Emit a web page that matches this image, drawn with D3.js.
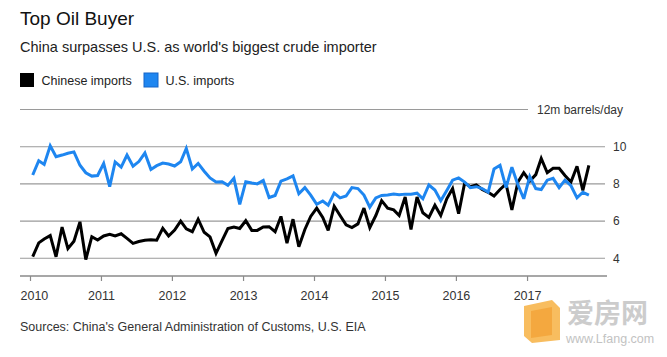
<!DOCTYPE html>
<html><head><meta charset="utf-8">
<script src="https://cdn.jsdelivr.net/npm/d3@7"></script>
<style>
body{margin:0;background:#fff;}
svg{display:block;font-family:"Liberation Sans",Arial,Helvetica,sans-serif;}
</style></head><body>
<svg id="chart" width="667" height="357"></svg>
<script>
// ---- data (monthly, Jan 2010 .. Nov 2017, million barrels/day) ----
const firstYear = 2010;
const chineseImports = [
  4.09, 4.83, 5.04, 5.22, 4.08, 5.68, 4.52, 4.92, 5.96, 3.93, 5.16, 4.98,
  5.20, 5.29, 5.20, 5.32, 5.07, 4.80, 4.90, 4.97, 5.00, 4.97, 5.61, 5.20,
  5.52, 6.00, 5.58, 5.43, 6.10, 5.40, 5.15, 4.27, 4.95, 5.60, 5.68, 5.60,
  6.02, 5.50, 5.50, 5.68, 5.70, 5.43, 6.25, 4.82, 6.10, 4.62, 5.55, 6.25,
  6.70, 6.20, 5.50, 6.80, 6.30, 5.80, 5.65, 5.85, 6.70, 5.65, 6.30, 7.10,
  6.70, 6.60, 6.30, 7.30, 5.55, 7.30, 6.45, 6.20, 6.85, 6.30, 7.20, 7.75,
  6.40, 8.05, 7.85, 7.95, 7.70, 7.55, 7.35, 7.70, 8.00, 6.60, 8.10, 8.60,
  8.15, 8.50, 9.37, 8.60, 8.84, 8.84, 8.45, 8.10, 8.95, 7.65, 9.00
];
const usImports = [
  8.48, 9.25, 9.05, 10.05, 9.46, 9.55, 9.65, 9.72, 9.00, 8.60, 8.42, 8.45,
  9.10, 7.85, 9.18, 8.90, 9.55, 8.95, 9.20, 9.66, 8.78, 8.98, 9.12, 9.07,
  8.96, 9.19, 9.91, 8.80, 9.10, 8.68, 8.32, 8.10, 8.12, 7.92, 8.30, 6.90,
  8.12, 8.05, 8.00, 8.18, 7.27, 7.38, 8.15, 8.27, 8.43, 7.47, 7.80, 7.40,
  6.90, 7.08, 6.85, 7.50, 7.25, 7.35, 7.80, 7.75, 7.40, 6.75, 7.25, 7.38,
  7.40, 7.45, 7.42, 7.45, 7.45, 7.50, 7.20, 7.94, 7.67, 7.10, 7.65, 8.20,
  8.32, 8.10, 7.80, 7.85, 7.75, 7.55, 8.80, 9.00, 7.80, 8.90, 7.95, 7.20,
  8.40, 7.75, 7.70, 8.20, 8.30, 7.80, 8.20, 7.90, 7.25, 7.55, 7.40
];
const yTickValues = [4, 6, 8, 10];
const unitTickValue = 12;
const unitLabel = "12m barrels/day";
const xTickYears = [2010, 2011, 2012, 2013, 2014, 2015, 2016, 2017];
const seriesNames = ["Chinese imports", "U.S. imports"];
const seriesColors = ["#000000", "#1e86f0"];
const titleText = "Top Oil Buyer";
const subtitleText = "China surpasses U.S. as world's biggest crude importer";
const sourceText = "Sources: China's General Administration of Customs, U.S. EIA";
const watermarkCn = "爱房网";
const watermarkUrl = "www.Lfang.com";

// ---- build ----
const months = chineseImports.map((_, i) => new Date(firstYear, i, 15));
const svg = d3.select("#chart");

const x = d3.scaleTime()
  .domain([new Date(2010, 0, 1), new Date(2018, 0, 1)])
  .range([30, 598]);
const y = d3.scaleLinear().domain([4, 12]).range([258.3, 109.5]);

const gridLeft = 20, gridRight = 605;

// title block
svg.append("text").attr("x", 20).attr("y", 25).attr("font-size", 19)
  .attr("fill", "#111").text(titleText);
svg.append("text").attr("x", 20).attr("y", 52).attr("font-size", 14.5)
  .attr("fill", "#222").text(subtitleText);

// legend
const legendX = [20, 144];
seriesNames.forEach((name, i) => {
  svg.append("rect").attr("x", legendX[i]).attr("y", 73).attr("width", 14).attr("height", 14)
    .attr("fill", seriesColors[i])
    .attr("stroke", i === 1 ? "#1565c8" : "none").attr("stroke-width", 1);
  svg.append("text").attr("x", legendX[i] + 21.5).attr("y", 84.5).attr("font-size", 12.5)
    .attr("fill", "#222").text(name);
});

// gridlines
const grid = svg.append("g");
grid.selectAll("line.g").data(yTickValues).join("line")
  .attr("x1", gridLeft).attr("x2", gridRight)
  .attr("y1", d => y(d)).attr("y2", d => y(d))
  .attr("stroke", "#9a9a9a").attr("stroke-width", 1.1);
grid.selectAll("text.g").data(yTickValues).join("text")
  .attr("x", 613).attr("y", d => y(d)).attr("dy", "0.35em")
  .attr("font-size", 12).attr("fill", "#333").text(d => d);
grid.append("line").attr("x1", gridLeft).attr("x2", 528)
  .attr("y1", y(unitTickValue)).attr("y2", y(unitTickValue))
  .attr("stroke", "#9a9a9a").attr("stroke-width", 1.1);
grid.append("text").attr("x", 537).attr("y", y(unitTickValue)).attr("dy", "0.35em")
  .attr("font-size", 12).attr("fill", "#333").text(unitLabel);

// x axis
const axisY = 276;
const xAxis = d3.axisBottom(x)
  .tickValues(xTickYears.map(yr => new Date(yr, 0, 1)))
  .tickFormat(d3.timeFormat("%Y"))
  .tickSize(5).tickPadding(10);
const gx = svg.append("g").attr("transform", `translate(0,${axisY})`).call(xAxis);
gx.select(".domain").remove();
gx.selectAll(".tick line").attr("stroke", "#8a8a8a").attr("stroke-width", 1.2);
gx.selectAll(".tick text").attr("font-size", 12.5).attr("fill", "#333")
  .attr("font-family", "Liberation Sans, Arial, sans-serif")
  .each(function(d) {
    const w = this.getComputedTextLength();
    const left = x(d) - w / 2;
    if (left < gridLeft) d3.select(this).attr("x", gridLeft - left);
  });
svg.append("line").attr("x1", gridLeft).attr("x2", 607).attr("y1", axisY).attr("y2", axisY)
  .attr("stroke", "#8a8a8a").attr("stroke-width", 1.5);

// lines
const line = d3.line().x(d => x(d[0])).y(d => y(d[1]));
const seriesData = [chineseImports, usImports];
seriesData.forEach((vals, i) => {
  svg.append("path")
    .datum(vals.map((v, j) => [months[j], v]))
    .attr("d", line)
    .attr("fill", "none")
    .attr("stroke", seriesColors[i])
    .attr("stroke-width", 3)
    .attr("stroke-linejoin", "miter")
    .attr("stroke-miterlimit", 3);
});

// source
svg.append("text").attr("x", 20).attr("y", 331).attr("font-size", 12.5)
  .attr("fill", "#333").text(sourceText);

// watermark
const wm = svg.append("g").attr("opacity", 0.85);
wm.append("path").attr("d", "M524,306 L552,300 L560,308 L560,340 L532,343 L524,336 Z")
  .attr("fill", "#f7b244");
wm.append("path").attr("d", "M531,311 L552,307 L552,335 L531,338 Z").attr("fill", "#f39a1e");
wm.append("text").attr("x", 567).attr("y", 323).attr("font-size", 27)
  .attr("font-family", "Noto Sans CJK SC, sans-serif").attr("font-weight", "bold")
  .attr("fill", "#c4c4c4").text(watermarkCn);
wm.append("text").attr("x", 566).attr("y", 343).attr("font-size", 12.5)
  .attr("fill", "#b8b8b8").text(watermarkUrl);
</script>
</body></html>
